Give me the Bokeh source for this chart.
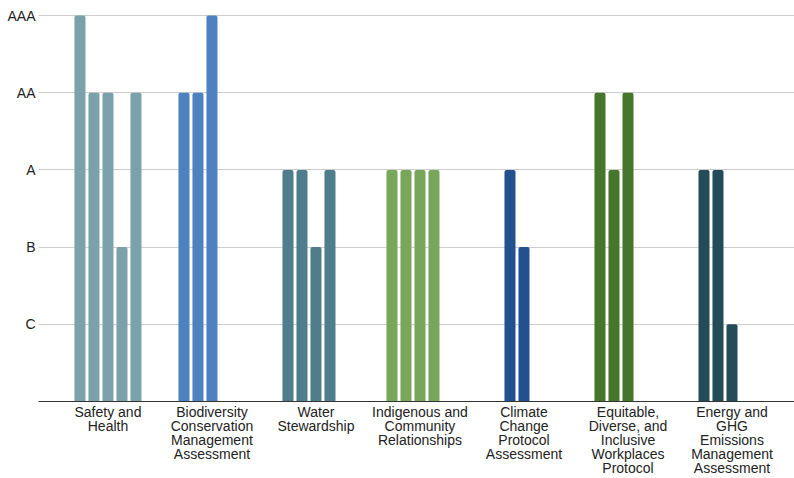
from bokeh.plotting import figure
from bokeh.models import ColumnDataSource, FixedTicker, Range1d
from bokeh.embed import file_html
from bokeh.resources import INLINE

# ---- data ----
categories = [
    "Safety and\nHealth",
    "Biodiversity\nConservation\nManagement\nAssessment",
    "Water\nStewardship",
    "Indigenous and\nCommunity\nRelationships",
    "Climate\nChange\nProtocol\nAssessment",
    "Equitable,\nDiverse, and\nInclusive\nWorkplaces\nProtocol",
    "Energy and\nGHG\nEmissions\nManagement\nAssessment",
]
rating_levels = ["C", "B", "A", "AA", "AAA"]

safety_health = ["AAA", "AA", "AA", "B", "AA"]
biodiversity = ["AA", "AA", "AAA", None, None]
water = ["A", "A", "B", "A", None]
indigenous = ["A", "A", "A", "A", None]
climate = [None, "A", "B", None, None]
equitable = ["AA", "A", "AA", None, None]
energy = ["A", "A", "C", None, None]

category_ratings = [safety_health, biodiversity, water, indigenous, climate, equitable, energy]
category_colors = ["#7BA1AA", "#4E81C0", "#4E7D8B", "#78A65A", "#23508E", "#45762B", "#234B58"]

# ---- layout parameters ----
slot_pitch = 0.1346
bar_width = 0.106

xs, tops, colors = [], [], []
for i, ratings in enumerate(category_ratings):
    for j, r in enumerate(ratings):
        if r is None:
            continue
        xs.append(i + (j - 2) * slot_pitch)
        tops.append(rating_levels.index(r) + 1)
        colors.append(category_colors[i])

src = ColumnDataSource(dict(x=xs, top=tops, color=colors))

p = figure(width=794, height=478, output_backend="svg", toolbar_location=None,
           x_range=Range1d(-0.668, 6.601), y_range=Range1d(0, 5.13),
           min_border_left=38, min_border_right=0, min_border_top=5, min_border_bottom=77)
p.outline_line_color = None
p.background_fill_color = "white"
p.border_fill_color = "white"

p.vbar(x="x", top="top", bottom=0, width=bar_width, color="color", source=src,
       line_color=None, border_radius=(2, 2, 0, 0))

# x axis
p.xaxis.ticker = FixedTicker(ticks=list(range(len(categories))))
p.xaxis.major_label_overrides = {i: c for i, c in enumerate(categories)}
p.xaxis.major_tick_line_color = None
p.xaxis.minor_tick_line_color = None
p.xaxis.major_tick_out = 0
p.xaxis.major_tick_in = 0
p.xaxis.axis_line_color = "#333333"
p.xaxis.axis_line_width = 1
p.xaxis.major_label_text_font = "Liberation Sans"
p.xaxis.major_label_text_font_size = "14px"
p.xaxis.major_label_text_color = "#222222"
p.xaxis.major_label_text_line_height = 0.875
p.xaxis.major_label_standoff = 2

# y axis
p.yaxis.ticker = FixedTicker(ticks=[1, 2, 3, 4, 5])
p.yaxis.major_label_overrides = {i + 1: r for i, r in enumerate(rating_levels)}
p.yaxis.major_tick_line_color = None
p.yaxis.minor_tick_line_color = None
p.yaxis.major_tick_out = 0
p.yaxis.major_tick_in = 0
p.yaxis.axis_line_color = None
p.yaxis.major_label_text_font = "Liberation Sans"
p.yaxis.major_label_text_font_size = "14px"
p.yaxis.major_label_text_color = "#222222"
p.yaxis.major_label_standoff = 3

p.xgrid.grid_line_color = None
p.ygrid.grid_line_color = "#CCCCCC"
p.ygrid.grid_line_width = 1

open("out.html", "w").write(file_html(p, INLINE))
